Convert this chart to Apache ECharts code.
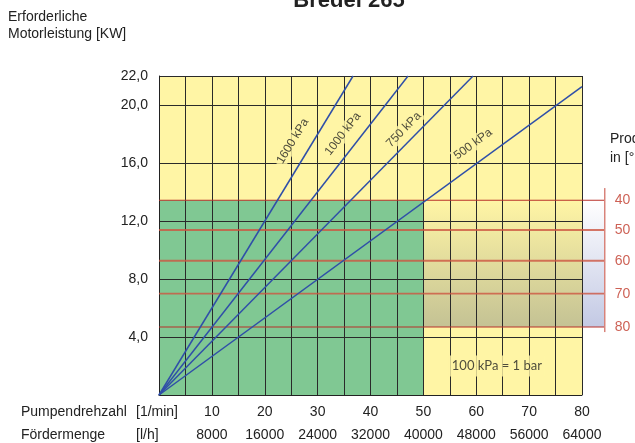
<!DOCTYPE html>
<html><head><meta charset="utf-8">
<script src="https://cdn.jsdelivr.net/npm/echarts@6/dist/echarts.min.js"></script>
<style>html,body{margin:0;padding:0;background:#fff}#c{width:635px;height:443px}</style>
</head><body><div id="c"></div>
<script>
// ---- data ----
const pressureNames = ['1600 kPa', '1000 kPa', '750 kPa', '500 kPa'];
const lineEndX = [36.7, 47.1, 59.4, 80];
const lineEndY = [22, 22, 22, 21.26];
const pressureLabelX = [25.3, 34.8, 46.3, 59.4];
const pressureLabelY = [17.5, 18.0, 18.3, 17.3];
const pressureLabelAngle = [58.6, 52.1, 45.6, 36.2];

const tempNames = ['40', '50', '60', '70', '80'];
const tempLevel = [13.43, 11.38, 9.26, 6.99, 4.69];

const speedTicks = [10, 20, 30, 40, 50, 60, 70, 80];          // 1/min
const flowTicks = [8000, 16000, 24000, 32000, 40000, 48000, 56000, 64000]; // l/h
const powerTicks = [4, 8, 12, 16, 20, 22];                    // kW

const greenZone = [0, 0, 50, 13.43];
const tempZone = [50, 4.69, 84.3, 13.43];
const tempAxisX = 84.3;
const tempAxisRange = [4.34, 14.27];
const tempLabelX = 86.2;
const noteText = '100 kPa = 1 bar';
const notePos = [63.9, 2.0];

// ---- chart ----
const FONT = '"Liberation Sans", Arial, sans-serif';
const YELLOW = '#fff5a5';
const GREEN = '#80c893';
const chart = echarts.init(document.getElementById('c'), null, {renderer: 'canvas'});

const zones = [
  [0, 0, 80, 22, 'bg'],
  [greenZone[0], greenZone[1], greenZone[2], greenZone[3], 'green'],
  [tempZone[0], tempZone[1], 80, tempZone[3], 'tempIn'],
  [80, tempZone[1], tempZone[2], tempZone[3], 'tempOut']
];

const series = [];
series.push({
  type: 'custom', z: -1, clip: false, silent: true,
  data: zones,
  encode: {x: [0, 2], y: [1, 3]},
  renderItem: function (params, api) {
    const x0 = api.value(0), y0 = api.value(1), x1 = api.value(2), y1 = api.value(3);
    const kind = zones[params.dataIndex][4];
    const a = api.coord([x0, y1]), b = api.coord([x1, y0]);
    let fill;
    if (kind === 'bg') fill = YELLOW;
    else if (kind === 'green') fill = GREEN;
    else if (kind === 'tempIn') fill = new echarts.graphic.LinearGradient(0, 0, 0, 1, [
      {offset: 0, color: YELLOW}, {offset: 1, color: '#c4c294'}]);
    else fill = new echarts.graphic.LinearGradient(0, 0, 0, 1, [
      {offset: 0, color: '#ffffff'}, {offset: 1, color: '#c3c9e4'}]);
    return {type: 'rect', shape: {x: a[0], y: a[1], width: b[0] - a[0], height: b[1] - a[1]}, style: {fill: fill}};
  }
});

// temperature reference lines + their axis (drawn beyond the plot edge)
const tempSegs = tempLevel.map(function (lv, i) {
  return [0, lv, tempAxisX, lv, (i === 0 || i === tempLevel.length - 1) ? 1 : 0];
}).concat([[tempAxisX, tempAxisRange[0], tempAxisX, tempAxisRange[1], 2]]);
series.push({
  type: 'custom', z: 3, clip: false, silent: true,
  data: tempSegs,
  encode: {x: [0, 2], y: [1, 3]},
  renderItem: function (params, api) {
    const a = api.coord([api.value(0), api.value(1)]);
    const b = api.coord([api.value(2), api.value(3)]);
    const kind = api.value(4);
    const st = kind === 1 ? {stroke: '#b8302a', lineWidth: 1.2}
      : kind === 0 ? {stroke: 'rgba(205,85,65,0.8)', lineWidth: 1.8}
      : {stroke: '#d8837a', lineWidth: 1.5};
    return {type: 'line', shape: {x1: a[0], y1: a[1], x2: b[0], y2: b[1]}, style: st};
  }
});
series.push({
  type: 'scatter', clip: false, silent: true, symbolSize: 0, z: 4,
  data: tempLevel.map(function (lv, i) {
    return {value: [tempLabelX, lv], label: {formatter: tempNames[i]}};
  }),
  label: {show: true, position: 'inside', align: 'left', verticalAlign: 'middle',
    color: '#c0392b', fontSize: 14, fontFamily: FONT}
});

pressureNames.forEach(function (nm, i) {
  series.push({
    type: 'line', silent: true, symbol: 'none', z: 5, name: nm,
    data: [[0, 0], [lineEndX[i], lineEndY[i]]],
    lineStyle: {color: '#2f4fa8', width: 1.5}
  });
});

series.push({
  type: 'scatter', silent: true, symbolSize: 0, z: 6,
  data: pressureNames.map(function (nm, i) {
    return {value: [pressureLabelX[i], pressureLabelY[i]],
      label: {formatter: nm, rotate: pressureLabelAngle[i]}};
  }).concat([{value: notePos, label: {formatter: noteText, rotate: 0, fontFamily: 'Lato, "Open Sans", sans-serif',
    fontSize: 13, padding: [4, 3]}}]),
  label: {show: true, position: 'inside', align: 'center', verticalAlign: 'middle',
    color: '#222', fontSize: 12, fontFamily: FONT, backgroundColor: YELLOW, padding: [1, 2]}
});

chart.setOption({
  animation: false,
  grid: {left: 159, top: 76, width: 423, height: 319, containLabel: false, outerBoundsMode: 'none'},
  xAxis: {
    type: 'value', min: 0, max: 80, interval: 5,
    axisLine: {show: true, lineStyle: {color: '#222', width: 1}},
    axisTick: {show: false},
    splitLine: {show: true, showMinLine: true, showMaxLine: true, lineStyle: {color: '#2a2a2a', width: 1}},
    axisLabel: {
      margin: 6, color: '#222', fontSize: 14, fontFamily: FONT, lineHeight: 23,
      formatter: function (v) {
        const k = speedTicks.indexOf(v);
        return k < 0 ? '' : speedTicks[k] + '\n' + flowTicks[k];
      }
    }
  },
  yAxis: {
    type: 'value', min: 0, max: 22, interval: 4,
    axisLine: {show: true, lineStyle: {color: '#222', width: 1}},
    axisTick: {show: false},
    splitLine: {show: true, showMinLine: true, showMaxLine: true, lineStyle: {color: '#2a2a2a', width: 1}},
    axisLabel: {
      margin: 11, color: '#222', fontSize: 14, fontFamily: FONT,
      formatter: function (v) {
        return powerTicks.indexOf(v) < 0 ? '' : v.toFixed(1).replace('.', ',');
      }
    }
  },
  graphic: [
    {type: 'text', x: 349, y: 1, z: 10, silent: true,
      style: {text: 'Bredel 265', align: 'center', verticalAlign: 'middle',
        font: 'bold 22px ' + FONT, fill: '#222'}},
    {type: 'text', x: 8, y: 8, z: 10, silent: true,
      style: {text: 'Erforderliche\nMotorleistung [KW]', font: '14px ' + FONT, fill: '#222', lineHeight: 17.6}},
    {type: 'text', x: 610, y: 130, z: 10, silent: true,
      style: {text: 'Produkttemperatur\nin [°C]', font: '14px ' + FONT, fill: '#222', lineHeight: 19}},
    {type: 'text', x: 21, y: 400.5, z: 10, silent: true,
      style: {text: 'Pumpendrehzahl\nFördermenge', font: '14px ' + FONT, fill: '#222', lineHeight: 23}},
    {type: 'text', x: 136, y: 400.5, z: 10, silent: true,
      style: {text: '[1/min]\n[l/h]', font: '14px ' + FONT, fill: '#222', lineHeight: 23}}
  ],
  series: series
});
</script></body></html>
